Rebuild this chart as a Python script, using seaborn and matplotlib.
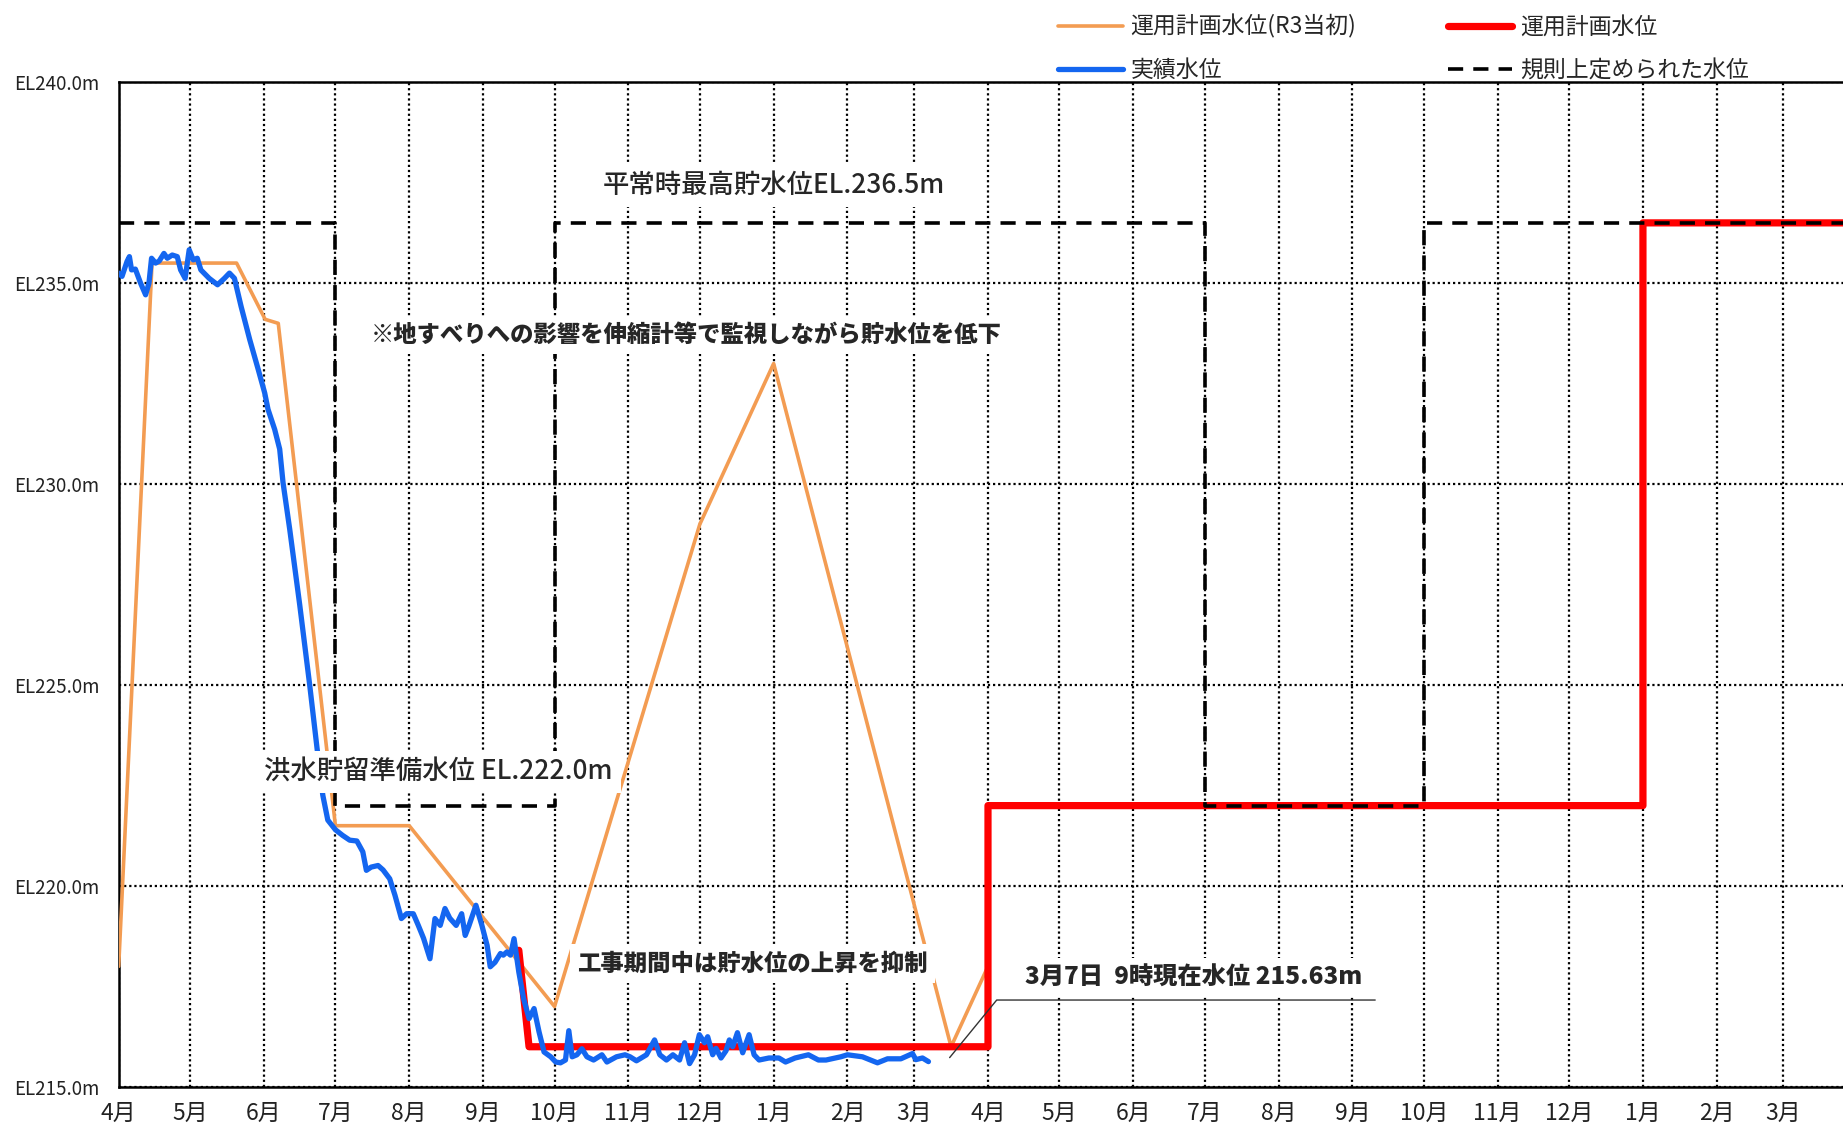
import pandas as pd
import seaborn as sns
import matplotlib.pyplot as plt

start = pd.Timestamp('2021-04-01')

# 実績水位 : days after 4/1, level (EL m)
actual_day = [0, 1.4, 3.5, 4.5, 5.4, 7, 9.2, 11.3, 12.7, 13.8, 15.5, 17, 19, 20.4, 22.5,
              24.6, 26, 27.9, 29.6, 31.3, 33, 34.5, 38, 41.5, 44.4, 46.5, 48.6, 51.4, 55,
              58.6, 61.3, 62.7, 65.5, 67.6, 69, 71.8, 76, 80.2, 83.3, 85.7, 87.8, 91, 94,
              97, 100, 102.5, 104, 106, 108.9, 111, 113.8, 116, 118.7, 120.9, 123.7, 125.8,
              128, 130.7, 132.8, 135, 137, 139, 141.7, 144, 145.5, 147, 150, 152.5, 154.7,
              156, 158, 160.3, 161.5, 163, 164.5, 166, 168, 170, 172.3, 174.4, 176.5, 178.6,
              181.4, 183.5, 185.5, 187.6, 189, 190.4, 192.4, 194.5, 196.6, 199.4, 202.9,
              205, 209, 212.6, 214.7, 217.4, 221.6, 225, 227.2, 230, 232.7, 235.5, 237.6,
              239.7, 241.8, 243.8, 246, 247.3, 249.4, 250.8, 252.9, 255, 256.4, 257.8,
              259.8, 262, 264.7, 266.8, 268.9, 273, 277.2, 280, 284, 289.6, 293.8, 297,
              303.2, 306, 312.3, 318.6, 322.8, 328.4, 333.3, 334.7, 337.5, 340]
actual_level = [235.25, 235.17, 235.54, 235.66, 235.33, 235.35, 235.0, 234.71, 235.0, 235.62,
                235.5, 235.55, 235.74, 235.62, 235.7, 235.66, 235.33, 235.12, 235.83, 235.58,
                235.62, 235.33, 235.12, 234.96, 235.12, 235.25, 235.12, 234.42, 233.6, 232.85,
                232.27, 231.86, 231.36, 230.87, 230.04, 228.88, 227.0, 225.0, 223.42, 222.26,
                221.64, 221.4, 221.26, 221.14, 221.12, 220.85, 220.39, 220.47, 220.51, 220.4,
                220.18, 219.77, 219.19, 219.31, 219.31, 219.02, 218.7, 218.19, 219.19, 219.02,
                219.44, 219.2, 219.02, 219.31, 218.77, 219.0, 219.52, 219.02, 218.52, 217.99,
                218.1, 218.32, 218.28, 218.36, 218.28, 218.69, 217.86, 217.2, 216.7, 216.95,
                216.37, 215.87, 215.75, 215.62, 215.6, 215.67, 216.4, 215.75, 215.8, 215.95,
                215.75, 215.67, 215.8, 215.62, 215.75, 215.8, 215.75, 215.65, 215.8, 216.17,
                215.8, 215.67, 215.8, 215.67, 216.1, 215.58, 215.8, 216.3, 216.1, 216.25,
                215.8, 215.96, 215.72, 215.9, 216.17, 216.0, 216.35, 215.85, 216.3, 215.8,
                215.67, 215.72, 215.72, 215.62, 215.72, 215.8, 215.67, 215.67, 215.75, 215.8,
                215.75, 215.6, 215.7, 215.7, 215.83, 215.68, 215.72, 215.63]

# 運用計画水位(R3当初)
plan_r3_day = [0, 14, 49.5, 61.5, 67, 91, 122, 183, 244, 275, 349.5, 365]
plan_r3_level = [218.0, 235.5, 235.5, 234.1, 234.0, 221.5, 221.5, 217.0, 229.0, 233.0, 216.0, 218.0]

# 運用計画水位
plan_day = [168, 172.3, 365, 365, 640, 640, 724]
plan_level = [218.4, 216.0, 216.0, 222.0, 222.0, 236.5, 236.5]

# 規則上定められた水位
rule_day = [0, 91, 91, 183, 183, 456, 456, 548, 548, 724]
rule_level = [236.5, 236.5, 222.0, 222.0, 236.5, 236.5, 222.0, 222.0, 236.5, 236.5]

month_starts = pd.date_range('2021-04-01', '2023-03-01', freq='MS')
month_labels = [f'{d.month}月' for d in month_starts]
y_ticks = [215, 220, 225, 230, 235, 240]
y_labels = [f'EL{v:.1f}m' for v in y_ticks]


def frame(days, levels):
    return pd.DataFrame({'date': start + pd.to_timedelta(days, unit='D'), 'level': levels})


sns.set_style('white')
plt.rcParams['font.family'] = ['Noto Sans CJK JP', 'DejaVu Sans']

fig = plt.figure(figsize=(18.43, 11.34), dpi=100)
ax = fig.add_axes([0.0644, 0.0415, 0.9356, 0.886])

sns.lineplot(data=frame(plan_r3_day, plan_r3_level), x='date', y='level', ax=ax,
             sort=False, estimator=None, color='#F39C52', lw=2.6,
             label='運用計画水位(R3当初)', zorder=3)
sns.lineplot(data=frame(actual_day, actual_level), x='date', y='level', ax=ax,
             sort=False, estimator=None, color='#1466F0', lw=3.8,
             label='実績水位', zorder=5)
sns.lineplot(data=frame(plan_day, plan_level), x='date', y='level', ax=ax,
             sort=False, estimator=None, color='#FF0000', lw=5.2,
             label='運用計画水位', zorder=4)
sns.lineplot(data=frame(rule_day, rule_level), x='date', y='level', ax=ax,
             sort=False, estimator=None, color='black', lw=2.6,
             linestyle=(0, (4.2, 2.8)), label='規則上定められた水位', zorder=6)

ax.set_xlim(start, start + pd.Timedelta(days=724))
ax.set_ylim(215, 240)
ax.set_xticks(month_starts)
ax.set_xticklabels(month_labels, fontsize=16.5, color='#222222')
ax.set_yticks(y_ticks)
ax.set_yticklabels(y_labels, fontsize=13.5, color='#222222')
ax.set_xlabel('')
ax.set_ylabel('')
ax.tick_params(axis='x', direction='out', length=6, width=1.6, pad=5)
ax.tick_params(axis='y', length=0, pad=14)
ax.grid(True, color='black', linestyle=(0, (1, 1.3)), lw=1.6)
for side in ['left', 'bottom', 'top']:
    ax.spines[side].set_color('black')
    ax.spines[side].set_linewidth(1.8)
ax.spines['right'].set_visible(False)

ax.legend(ncol=2, loc='lower left', bbox_to_anchor=(0.545, 1.0), frameon=False,
          fontsize=16.5, handlelength=2.8, handletextpad=0.35, columnspacing=4.0,
          labelspacing=0.9, borderaxespad=0, borderpad=0)

box = dict(boxstyle='square,pad=0.3', fc='white', ec='none')
ax.text(0.3797, 0.8971, '平常時最高貯水位EL.236.5m', transform=ax.transAxes, ha='center',
        va='center', fontsize=19, fontweight='medium', bbox=box, zorder=10)
ax.text(0.3292, 0.7485, '※地すべりへの影響を伸縮計等で監視しながら貯水位を低下',
        transform=ax.transAxes, ha='center', va='center', fontsize=16.8,
        fontweight='heavy', bbox=box, zorder=10)
ax.text(0.1854, 0.3135, '洪水貯留準備水位 EL.222.0m', transform=ax.transAxes, ha='center',
        va='center', fontsize=19, fontweight='medium', bbox=box, zorder=10)
ax.text(0.3674, 0.1228, '工事期間中は貯水位の上昇を抑制', transform=ax.transAxes,
        ha='center', va='center', fontsize=16.8, fontweight='heavy', bbox=box, zorder=10)
ax.text(0.5256, 0.1088, '3月7日  9時現在水位 215.63m', transform=ax.transAxes,
        ha='left', va='center', fontsize=17.5, fontweight='heavy', bbox=box, zorder=10)
ax.plot([0.4819, 0.5092, 0.7287], [0.0292, 0.0865, 0.0865], transform=ax.transAxes,
        color='#333333', lw=1.0, zorder=11)

fig.savefig('out.png', dpi=100)
